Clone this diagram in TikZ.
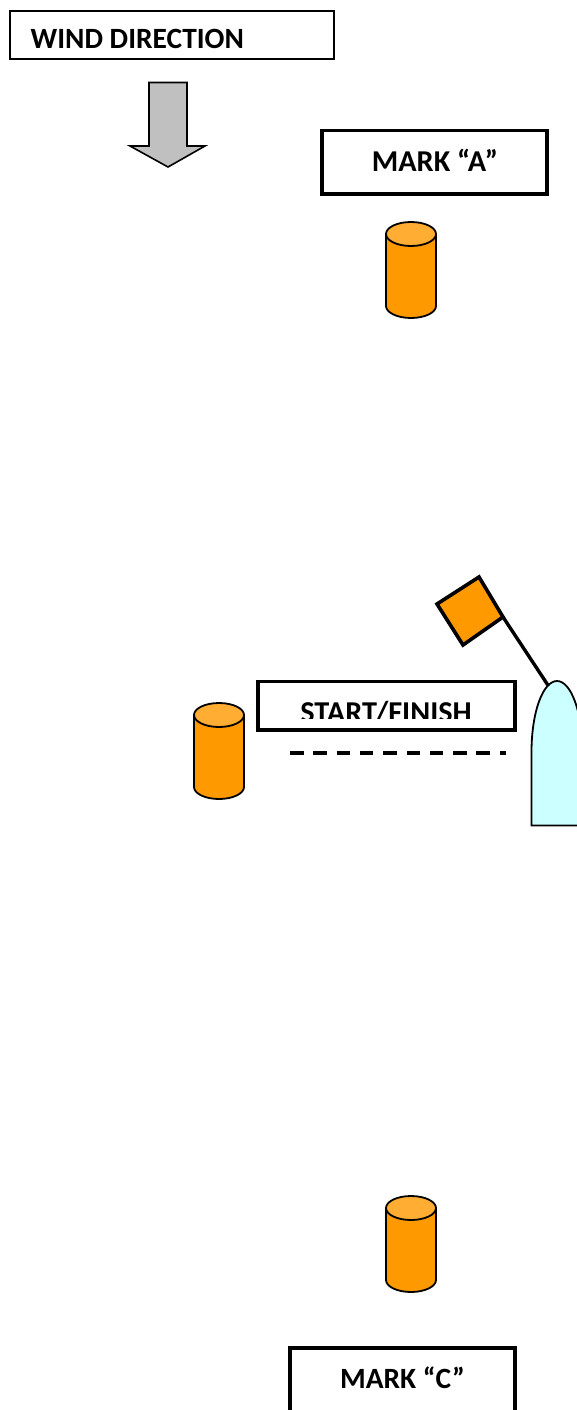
\documentclass[tikz,border=0pt]{standalone}
\usepackage{fontspec}
\setmainfont{Carlito}
\definecolor{buoy}{HTML}{FF9900}
\definecolor{buoytop}{HTML}{FFAD33}
\definecolor{hull}{HTML}{CCFFFF}
\definecolor{windfill}{HTML}{C0C0C0}
\newcommand{\buoyat}[2]{%
  \draw[buoyline,fill=buoy] (#1-25,#2+12) -- (#1-25,#2+84)
    .. controls (#1-25,#2+90.6) and (#1-13.8,#2+96) .. (#1,#2+96)
    .. controls (#1+13.8,#2+96) and (#1+25,#2+90.6) .. (#1+25,#2+84) -- (#1+25,#2+12) -- cycle;
  \draw[buoyline,fill=buoytop] (#1,#2+12) ellipse[x radius=25pt,y radius=12pt];
}
\tikzset{
  buoyline/.style={draw=black,line width=1.8pt,line join=round},
  thinbox/.style={draw=black,line width=1.6pt,fill=white},
  thickbox/.style={draw=black,line width=3.2pt,fill=white,line join=miter},
  caption/.style={font=\bfseries\fontsize{30.3}{34}\selectfont,inner sep=0pt,text=black},
  windcaption/.style={font=\bfseries\fontsize{29.4}{34}\selectfont,inner sep=0pt,text=black},
  ccaption/.style={font=\bfseries\fontsize{29.4}{34}\selectfont,inner sep=0pt,text=black},
}
\begin{document}
\begin{tikzpicture}[x=1pt,y=-1pt]
\useasboundingbox (0,0) rectangle (577,1410);
\clip (0,0) rectangle (577,1410);
\fill[white] (0,0) rectangle (577,1410);
% wind box and arrow
\draw[thinbox] (10,11) rectangle (334,59);
\node[windcaption,anchor=base west] (windlabel) at (30.5,49) {WIND DIRECTION};
\draw[draw=black,line width=1.6pt,fill=windfill,line join=miter] (149,82.5) -- (187,82.5) -- (187,146) -- (205,146) -- (168,167) -- (130,146) -- (149,146) -- cycle;
% mark A
\draw[thickbox] (322,130.5) rectangle (547,194);
\node[caption,anchor=base] (marka) at (435,171) {MARK “A”};
\buoyat{411}{222}
% start/finish
\buoyat{219}{703}
\draw[thickbox] (258,681.5) rectangle (515,730);
\begin{scope}
\clip (262,686) rectangle (511,718);
\node[caption,anchor=base] (start) at (386,722) {START/FINISH};
\end{scope}
\coordinate (lineL) at (290,753);
\coordinate (lineR) at (506,753);
\draw[line width=3.4pt,dash pattern=on 13.5pt off 9.8pt] (lineL) -- (lineR);
% committee boat
\draw[draw=black,line width=1.8pt,fill=hull] (531.5,825.5) -- (531.5,752)
  .. controls (531.5,712) and (543,681) .. (557,681)
  .. controls (571,681) and (582.5,712) .. (582.5,752) -- (582.5,825.5) -- cycle;
\coordinate (mastfoot) at (548.5,686);
\coordinate (masttop) at (503,617);
\draw[line width=3.4pt] (masttop) -- (mastfoot);
\draw[draw=black,line width=3.6pt,fill=buoy,line join=miter] (479,577) -- (437,604) -- (463,645) -- (503,617) -- cycle;
% mark C
\buoyat{411}{1196}
\draw[thickbox] (290,1348) rectangle (515,1425);
\node[ccaption,anchor=base] (markc) at (402.5,1388) {MARK “C”};
\end{tikzpicture}
\end{document}
